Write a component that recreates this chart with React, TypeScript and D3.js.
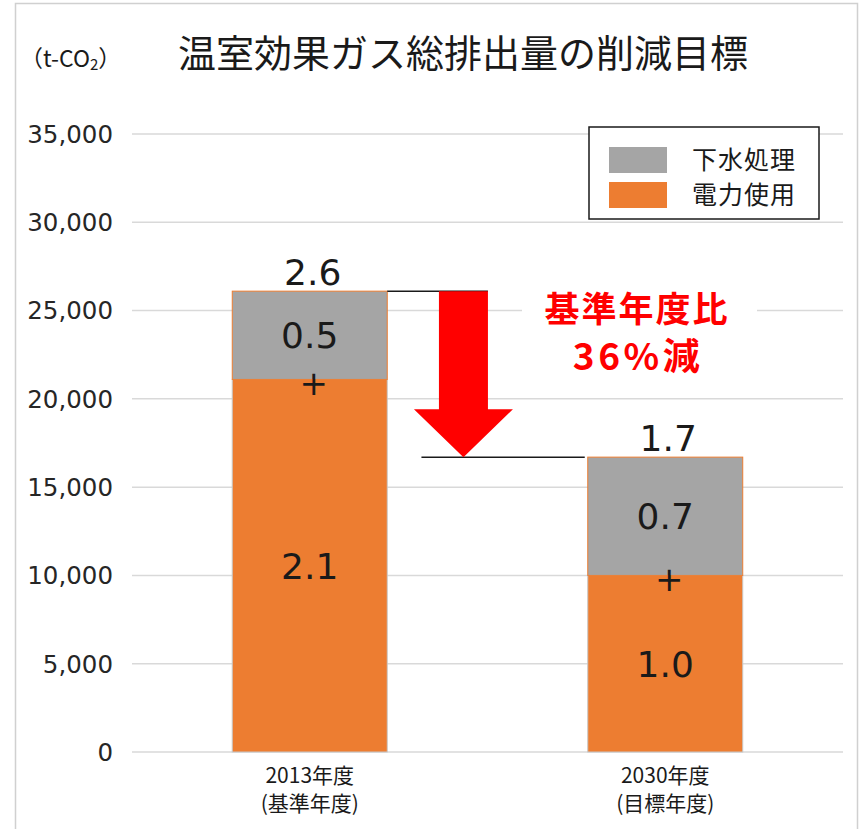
import * as d3 from 'd3';
import React from 'react';

// values (t-CO2)
const categories = ['2013年度', '2030年度'];
const subLabels = ['(基準年度)', '(目標年度)'];
const electricity = [21100, 10000];
const sewage = [5000, 6700];
const electricityLabels = ['2.1', '1.0'];
const sewageLabels = ['0.5', '0.7'];
const totalLabels = ['2.6', '1.7'];
const yTicks = [0, 5000, 10000, 15000, 20000, 25000, 30000, 35000];
const seriesNames = ['下水処理', '電力使用'];

const W = 862;
const H = 829;
const GRAY = '#a5a5a5';
const ORANGE = '#ed7d31';
const CJK = '"Noto Sans CJK JP", "Noto Sans", sans-serif';
const NUM = '"DejaVu Sans", Verdana, sans-serif';

const App = () => {
    const x = d3.scaleBand<string>()
        .domain(categories)
        .range([132, 843])
        .paddingInner(0.564)
        .paddingOuter(0.282);
    const y = d3.scaleLinear().domain([0, 35000]).range([752, 134]);
    const fmt = d3.format(',');
    const bw = x.bandwidth();

    const stacked = categories.map((c, i) => ({
        cat: c,
        x0: x(c) as number,
        elec: electricity[i],
        total: electricity[i] + sewage[i],
    }));

    // arrow between the two bars
    const b0 = stacked[0];
    const b1 = stacked[1];
    const gapL = b0.x0 + bw;
    const gapR = b1.x0;
    const ax = gapL + (gapR - gapL) * 0.38;
    const yTop = y(b0.total);
    const yTip = y(b1.total);
    const shaftHalf = 24.5;
    const headHalf = 49.5;
    const headH = 48;
    const arrowPath = d3.path();
    arrowPath.moveTo(ax - shaftHalf, yTop);
    arrowPath.lineTo(ax + shaftHalf, yTop);
    arrowPath.lineTo(ax + shaftHalf, yTip - headH);
    arrowPath.lineTo(ax + headHalf, yTip - headH);
    arrowPath.lineTo(ax, yTip);
    arrowPath.lineTo(ax - headHalf, yTip - headH);
    arrowPath.lineTo(ax - shaftHalf, yTip - headH);
    arrowPath.closePath();

    return (
        <svg width={W} height={H} style={{ position: 'absolute', left: 0, top: 0, background: '#fff' }}>
            {/* frame */}
            <path d={`M15.5,${H} V3.5 H857.5 V${H}`} fill="none" stroke="#d0d0d0" strokeWidth={1.5} />

            {/* title */}
            <text x={20} y={61} fontFamily={CJK} fontSize={23} fill="#1a1a1a" dominantBaseline="middle">
                （t-CO<tspan fontSize={15} dy={5}>2</tspan><tspan dy={-5}>）</tspan>
            </text>
            <text x={178} y={57} fontFamily={CJK} fontSize={38} fill="#1a1a1a" dominantBaseline="middle">
                温室効果ガス総排出量の削減目標
            </text>

            {/* gridlines + y ticks */}
            {yTicks.map((t) => (
                <g key={t}>
                    <line x1={132} x2={843} y1={y(t)} y2={y(t)} stroke="#d9d9d9" strokeWidth={1.5} />
                    <text x={113} y={y(t)} dy="0.36em" textAnchor="end" fontFamily={NUM} fontSize={24.5} fill="#262626">
                        {fmt(t)}
                    </text>
                </g>
            ))}

            {/* bars */}
            {stacked.map((d, i) => (
                <g key={d.cat}>
                    <rect x={d.x0} y={y(d.elec)} width={bw} height={y(0) - y(d.elec)} fill={ORANGE} stroke="#c8c8c8" strokeWidth={1} />
                    <rect x={d.x0} y={y(d.total)} width={bw} height={y(d.elec) - y(d.total)} fill={GRAY} stroke={ORANGE} strokeWidth={1} />
                    <text x={d.x0 + bw / 2} y={(y(d.total) + y(d.elec)) / 2} dy="0.36em" textAnchor="middle" fontFamily={NUM} fontSize={36} fill="#1a1a1a">
                        {sewageLabels[i]}
                    </text>
                    <text x={d.x0 + bw / 2} y={(y(d.elec) + y(0)) / 2} dy="0.36em" textAnchor="middle" fontFamily={NUM} fontSize={36} fill="#1a1a1a">
                        {electricityLabels[i]}
                    </text>
                    <text x={d.x0 + bw / 2 + 4} y={y(d.elec) + 3} dy="0.36em" textAnchor="middle" fontFamily={NUM} fontSize={34} fill="#1a1a1a">
                        +
                    </text>
                    <text x={d.x0 + bw / 2 + 3} y={y(d.total) - 6} textAnchor="middle" fontFamily={NUM} fontSize={36} fill="#1a1a1a">
                        {totalLabels[i]}
                    </text>
                    <text x={d.x0 + bw / 2} y={776} dy="0.35em" textAnchor="middle" fontFamily={CJK} fontSize={21} fill="#1a1a1a">
                        {d.cat}
                    </text>
                    <text x={d.x0 + bw / 2} y={804} dy="0.35em" textAnchor="middle" fontFamily={CJK} fontSize={21} fill="#1a1a1a">
                        {subLabels[i]}
                    </text>
                </g>
            ))}

            {/* reduction annotation */}
            <line x1={gapL} x2={ax + shaftHalf} y1={yTop} y2={yTop} stroke="#1a1a1a" strokeWidth={1.5} />
            <line x1={ax - 42} x2={gapR - 3} y1={yTip} y2={yTip} stroke="#1a1a1a" strokeWidth={1.5} />
            <path d={arrowPath.toString()} fill="#ff0000" />
            <rect x={522} y={288} width={235} height={92} fill="#fff" />
            <text x={637} y={309} dy="0.36em" textAnchor="middle" fontFamily={CJK} fontWeight={700} fontSize={35} letterSpacing={2} fill="#ff0000">
                基準年度比
            </text>
            <text x={638} y={357} dy="0.36em" textAnchor="middle" fontFamily={CJK} fontWeight={700} fontSize={37} letterSpacing={3.5} fill="#ff0000">
                36%減
            </text>

            {/* legend */}
            <rect x={589} y={127} width={230} height={92} fill="#fff" stroke="#1a1a1a" strokeWidth={1.5} />
            {seriesNames.map((n, i) => (
                <g key={n}>
                    <rect x={609} y={147 + i * 35} width={58} height={26} fill={i === 0 ? GRAY : ORANGE} />
                    <text x={692} y={160 + i * 35} dy="0.36em" fontFamily={CJK} fontSize={25} letterSpacing={1} fill="#1a1a1a">
                        {n}
                    </text>
                </g>
            ))}
        </svg>
    );
};

export default App;
